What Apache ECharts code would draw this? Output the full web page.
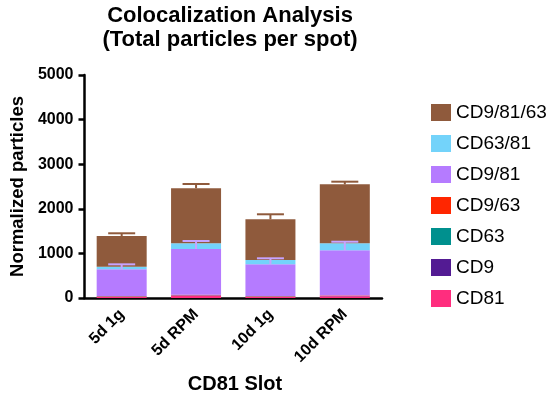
<!DOCTYPE html>
<html>
<head>
<meta charset="utf-8">
<script src="https://cdn.jsdelivr.net/npm/echarts@6/dist/echarts.min.js"></script>
<style>html,body{margin:0;padding:0;background:#fff}#c{width:550px;height:398px}</style>
</head>
<body>
<div id="c"></div>
<script>
var categories = ['5d 1g', '5d RPM', '10d 1g', '10d RPM'];
var yTicks = [0, 1000, 2000, 3000, 4000, 5000];
// stacked from bottom to top
var cd81      = [30, 60, 30, 40];
var cd9       = [3, 3, 3, 3];
var cd63      = [4, 4, 4, 4];
var cd9_63    = [8, 8, 8, 8];
var cd9_81    = [598, 1024, 711, 1015];
var cd63_81   = [59, 127, 96, 156];
var cd9_81_63 = [688, 1234, 913, 1323];
// upward error bars
var errTotal  = [61, 96, 112, 59];
var errCD9_81 = [112, 179, 134, 192];

var seriesDefs = [
  {name: 'CD81', data: cd81, color: '#ff2d7e'},
  {name: 'CD9', data: cd9, color: '#531b93'},
  {name: 'CD63', data: cd63, color: '#00908e'},
  {name: 'CD9/63', data: cd9_63, color: '#ff2600'},
  {name: 'CD9/81', data: cd9_81, color: '#b57bff'},
  {name: 'CD63/81', data: cd63_81, color: '#73d3fa'},
  {name: 'CD9/81/63', data: cd9_81_63, color: '#8f5a3c'}
];

function cumUpTo(k) {
  return categories.map(function (_, i) {
    var s = 0;
    for (var j = 0; j <= k; j++) s += seriesDefs[j].data[i];
    return s;
  });
}
var topPurple = cumUpTo(4);
var topTotal = cumUpTo(6);

function errSeries(name, tops, errs, color) {
  return {
    type: 'custom', name: name, z: 10, silent: true,
    data: categories.map(function (_, i) { return [i, tops[i], errs[i]]; }),
    renderItem: function (params, api) {
      var x = api.value(0), b = api.value(1), e = api.value(2);
      var p0 = api.coord([x, b]);
      var p1 = api.coord([x, b + e]);
      var hw = 13.5;
      return {type: 'group', children: [
        {type: 'line', shape: {x1: p0[0], y1: p0[1], x2: p1[0], y2: p1[1]}, style: {stroke: color, lineWidth: 2}},
        {type: 'line', shape: {x1: p1[0] - hw, y1: p1[1], x2: p1[0] + hw, y2: p1[1]}, style: {stroke: color, lineWidth: 2}}
      ]};
    }
  };
}

var FF = '"Liberation Sans", Arial, Helvetica, sans-serif';
var series = seriesDefs.map(function (d) {
  return {
    name: d.name, type: 'bar', stack: 'all', barWidth: 50,
    data: d.data, itemStyle: {color: d.color}
  };
});
series.push(errSeries('errTotal', topTotal, errTotal, '#8f5a3c'));
series.push(errSeries('errCD9_81', topPurple, errCD9_81, '#c7a3ff'));

var chart = echarts.init(document.getElementById('c'));
chart.setOption({
  animation: false,
  textStyle: {fontFamily: FF},
  graphic: [
    {type: 'text', x: 230, y: 4, style: {text: 'Colocalization Analysis\n(Total particles per spot)', font: 'bold 22px ' + FF, fill: '#000', textAlign: 'center', lineHeight: 24}},
    {type: 'text', x: 235, y: 374, style: {text: 'CD81 Slot', font: 'bold 20px ' + FF, fill: '#000', textAlign: 'center'}}
  ],
  grid: {left: 78, right: 168, top: 75, bottom: 100, containLabel: false},
  legend: {
    orient: 'vertical', left: 426, top: 98, itemWidth: 20, itemHeight: 17, itemGap: 12,
    icon: 'rect',
    data: ['CD9/81/63', 'CD63/81', 'CD9/81', 'CD9/63', 'CD63', 'CD9', 'CD81'],
    textStyle: {fontSize: 19, color: '#000', fontFamily: FF},
    selectedMode: false
  },
  xAxis: {
    type: 'category', data: categories,
    axisLine: {lineStyle: {color: '#000', width: 2.5}},
    axisTick: {alignWithLabel: true, length: 6, lineStyle: {width: 2.5, color: '#000'}},
    axisLabel: {rotate: 45, fontSize: 16, fontWeight: 'bold', color: '#000', margin: 14, fontFamily: FF}
  },
  yAxis: {
    type: 'value', min: yTicks[0], max: yTicks[yTicks.length - 1], interval: 1000,
    name: 'Normalized particles', nameLocation: 'middle', nameGap: 54,
    nameTextStyle: {fontSize: 18.5, fontWeight: 'bold', color: '#000', fontFamily: FF},
    axisLine: {show: true, lineStyle: {color: '#000', width: 2.5}},
    axisTick: {show: true, length: 6, lineStyle: {width: 2.5, color: '#000'}},
    splitLine: {show: false},
    axisLabel: {fontSize: 16, fontWeight: 'bold', color: '#000', margin: 11, fontFamily: FF,
      formatter: function (v) { return String(v); }}
  },
  series: series
});
</script>
</body>
</html>
